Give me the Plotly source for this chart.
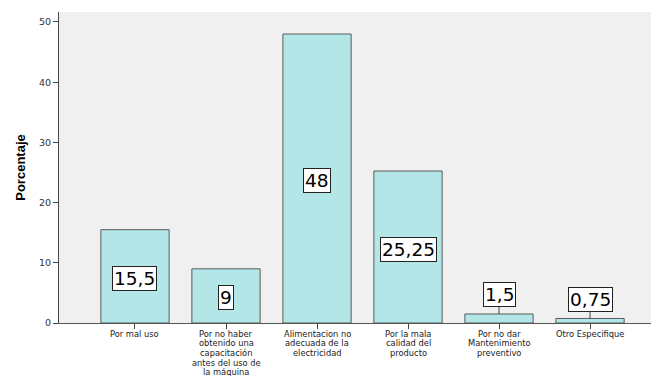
import plotly.graph_objects as go

categories = [
    "Por mal uso",
    "Por no haber<br>obtenido una<br>capacitación<br>antes del uso de<br>la máquina",
    "Alimentacion no<br>adecuada de la<br>electricidad",
    "Por la mala<br>calidad del<br>producto",
    "Por no dar<br>Mantenimiento<br>preventivo",
    "Otro Especifique",
]
values = [15.5, 9, 48, 25.25, 1.5, 0.75]
y_ticks = [0, 10, 20, 30, 40, 50]
y_title = "Porcentaje"

x_pos = list(range(len(categories)))
labels = [f"{v:g}".replace(".", ",") for v in values]

fig = go.Figure()
fig.add_trace(go.Bar(
    x=x_pos, y=values, width=0.75,
    marker=dict(color="#b3e6e6", line=dict(color="#5a5a5a", width=1)),
    hoverinfo="skip",
))

annotations = []
lab_font = dict(family="DejaVu Sans", size=18.5, color="black")
for i, (v, t) in enumerate(zip(values, labels)):
    if v >= 5:
        annotations.append(dict(
            x=i, y=v / 2, xref="x", yref="y", text=t, showarrow=False,
            yshift=-2, font=lab_font, bgcolor="white", bordercolor="#222",
            borderwidth=1, borderpad=1,
        ))
    else:
        annotations.append(dict(
            x=i, y=v, xref="x", yref="y", text=t, showarrow=True,
            arrowhead=0, arrowwidth=1, arrowcolor="#444", ax=0, ay=-19,
            font=lab_font, bgcolor="white", bordercolor="#222",
            borderwidth=1, borderpad=1,
        ))

# category labels, one line per annotation for tight line spacing
for i, c in enumerate(categories):
    for j, line in enumerate(c.split("<br>")):
        annotations.append(dict(
            x=i, y=0, xref="x", yref="y", text=line, showarrow=False,
            yanchor="top", yshift=-4.5 - 9.7 * j, borderpad=0,
            font=dict(family="DejaVu Sans", size=8.3, color="#222"),
        ))

fig.update_layout(
    width=651, height=376,
    margin=dict(l=59, r=0, t=12, b=53),
    paper_bgcolor="white", plot_bgcolor="#f0f0f0",
    showlegend=False,
    annotations=annotations,
    xaxis=dict(
        range=[-0.835, 5.67], tickmode="array", tickvals=x_pos,
        showticklabels=False, ticks="outside", ticklen=5, tickcolor="#444",
        showline=True, linecolor="#555", linewidth=1, showgrid=False,
        zeroline=False, fixedrange=True,
    ),
    yaxis=dict(
        range=[0, 51.66], tickmode="array", tickvals=y_ticks,
        ticks="outside", ticklen=5, tickcolor="#444",
        tickfont=dict(family="DejaVu Sans", size=9.5, color="#333"),
        showline=True, linecolor="#444", linewidth=1, showgrid=False,
        zeroline=False,
        title=dict(text=y_title, standoff=10,
                   font=dict(family="Liberation Sans", size=13, color="black", weight="bold")),
    ),
)

fig.write_html("out.html")
